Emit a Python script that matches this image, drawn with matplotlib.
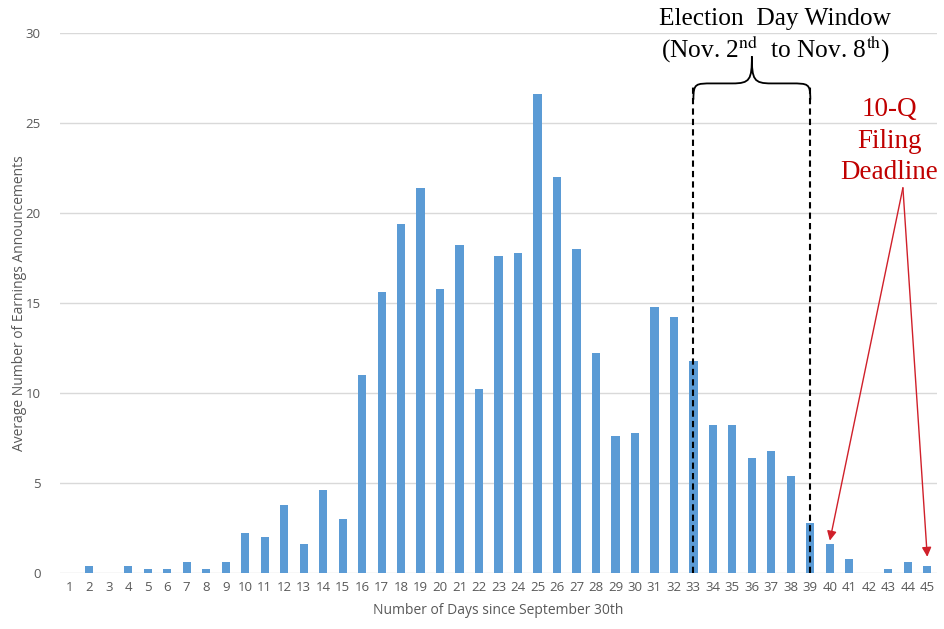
import numpy as np
import matplotlib.pyplot as plt
from matplotlib.path import Path
from matplotlib.patches import PathPatch

plt.rcParams['mathtext.fontset'] = 'stix'

days = list(range(1, 46))
avg_announcements = [
    0.0, 0.4, 0.0, 0.4, 0.2, 0.2, 0.6, 0.2, 0.6, 2.2,
    2.0, 3.8, 1.6, 4.6, 3.0, 11.0, 15.6, 19.4, 21.4, 15.8,
    18.2, 10.2, 17.6, 17.8, 26.6, 22.0, 18.0, 12.2, 7.6, 7.8,
    14.8, 14.2, 11.8, 8.2, 8.2, 6.4, 6.8, 5.4, 2.8, 1.6,
    0.8, 0.0, 0.2, 0.6, 0.4,
]
window_start, window_end = 33, 39
deadline_days = [40, 45]

fig = plt.figure(figsize=(9.44, 6.29), dpi=100)
ax = fig.add_axes([0.0636, 0.089, 0.929, 0.8585])

ax.bar(days, avg_announcements, width=0.42, color='#5b9bd5', zorder=2)

ax.set_xlim(0.5, 45.5)
ax.set_ylim(0, 30)
ax.set_xticks(days)
ax.set_yticks(range(0, 31, 5))
ax.grid(axis='y', color='#d9d9d9', lw=1, zorder=0)
for s in ax.spines.values():
    s.set_visible(False)
ax.tick_params(length=0, colors='#595959', labelsize=9.5, labelfontfamily='Open Sans')
ax.tick_params(axis='x', pad=6)
ax.tick_params(axis='y', pad=14)
ax.set_xlabel('Number of Days since September 30th', color='#595959',
              fontsize=10, family='Open Sans', labelpad=6)
ax.set_ylabel('Average Number of Earnings Announcements', color='#595959',
              fontsize=10, family='Open Sans', labelpad=-1)

# election window: dashed bounds and a curly brace over them
for d in (window_start, window_end):
    ax.plot([d, d], [0, 27.0], color='black', lw=1.5, ls=(0, (3, 2)), zorder=3)

x0, x1 = window_start, window_end
xm = (x0 + x1) / 2
yb, yh, yt = 26.3, 27.2, 28.7
verts = [
    (x0, yb), (x0, yh), (x0 + 0.1, yh), (x0 + 1.0, yh),
    (xm - 1.0, yh),
    (xm - 0.1, yh), (xm, yh + 0.2), (xm, yt),
    (xm, yh + 0.2), (xm + 0.1, yh), (xm + 1.0, yh),
    (x1 - 1.0, yh),
    (x1 - 0.1, yh), (x1, yh), (x1, yb),
]
codes = [Path.MOVETO, Path.CURVE4, Path.CURVE4, Path.CURVE4,
         Path.LINETO,
         Path.CURVE4, Path.CURVE4, Path.CURVE4,
         Path.CURVE4, Path.CURVE4, Path.CURVE4,
         Path.LINETO,
         Path.CURVE4, Path.CURVE4, Path.CURVE4]
ax.add_patch(PathPatch(Path(verts, codes), fc='none', ec='black', lw=1.3,
                       clip_on=False, zorder=4))

ax.text(37.2, 30.8, 'Election  Day Window', ha='center', va='center',
        fontsize=18.3, family='Liberation Serif', clip_on=False)
ax.text(37.2, 29.15, r'(Nov. 2$^{\mathrm{nd}}$  to Nov. 8$^{\mathrm{th}}$)',
        ha='center', va='center', fontsize=18.3, family='Liberation Serif',
        clip_on=False)

# 10-Q filing deadline note
ax.text(43.05, 24.0, '10-Q\nFiling\nDeadline', ha='center', va='center',
        multialignment='center', fontsize=19.5, color='#c00000',
        family='Liberation Serif', linespacing=1.32, clip_on=False)
tips = [(40, 1.8), (45, 0.9)]
for d, y in tips:
    ax.annotate('', xy=(d, y), xytext=(43.75, 21.4),
                arrowprops=dict(arrowstyle='-|>', color='#d0202a', lw=1.0,
                                mutation_scale=14, shrinkA=0, shrinkB=0))

fig.savefig('out.png', dpi=100)
